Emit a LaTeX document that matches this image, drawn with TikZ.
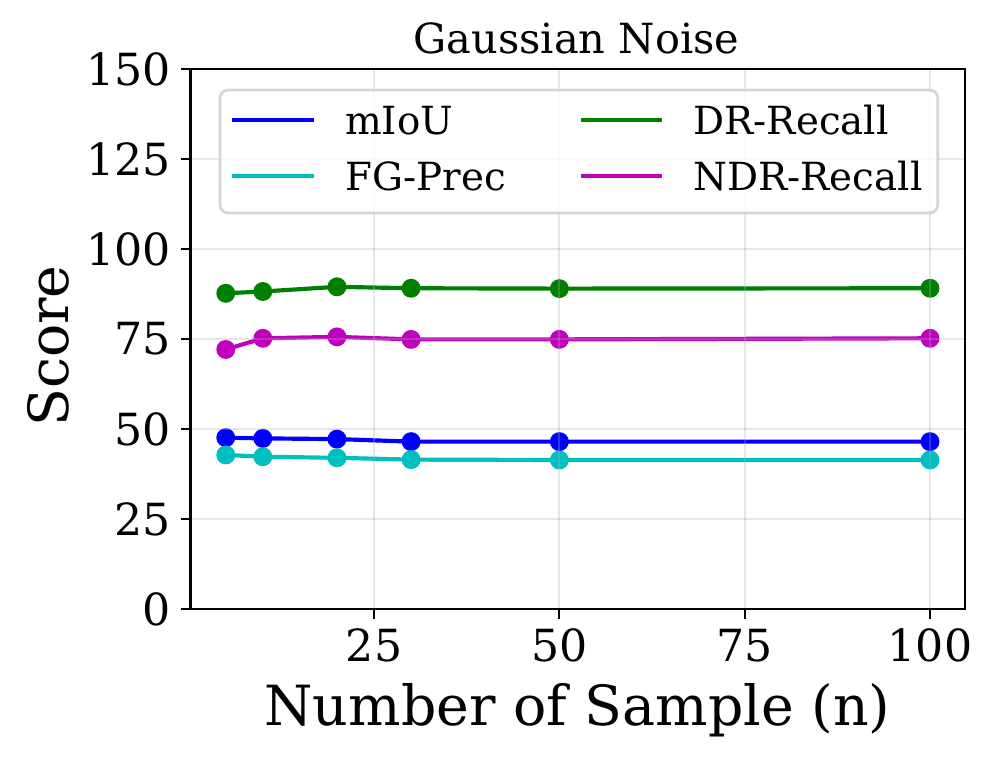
\documentclass[tikz,border=0pt]{standalone}
\usepackage{fontspec}
\setmainfont{DejaVu Serif}
\definecolor{cmiou}{rgb}{0,0,1}
\definecolor{cfg}{rgb}{0,0.75,0.75}
\definecolor{cdr}{rgb}{0,0.5,0}
\definecolor{cndr}{rgb}{0.75,0,0.75}
\definecolor{cgrid}{RGB}{176,176,176}
\definecolor{cframe}{RGB}{204,204,204}
\begin{document}
\begin{tikzpicture}[x=0.36bp,y=-0.36bp,
  gridline/.style={draw=cgrid,draw opacity=0.3,line width=0.8bp},
  spine/.style={line width=0.8bp},
  ticklab/.style={inner sep=0pt,font=\fontsize{16}{19}\selectfont},
  leglab/.style={inner sep=0pt,anchor=base west,font=\fontsize{14}{17}\selectfont},
  series/.style={line width=1.5bp,#1,mark=*,mark size=3.1bp,mark options={line width=0.6bp}},
  handle/.style={line width=1.5bp,#1}]
\useasboundingbox (0,0) rectangle (992,757);
\begin{scope}[shift={(188.7,609)},x=2.6687bp,y=1.296bp]
\draw[series=cmiou] plot coordinates {(5,47.6) (10,47.4) (20,47.2) (30,46.5) (50,46.5) (100,46.5)};
\draw[series=cfg] plot coordinates {(5,42.8) (10,42.3) (20,42.0) (30,41.5) (50,41.4) (100,41.4)};
\draw[series=cdr] plot coordinates {(5,87.7) (10,88.2) (20,89.5) (30,89.1) (50,89.0) (100,89.1)};
\draw[series=cndr] plot coordinates {(5,72.1) (10,75.2) (20,75.6) (30,74.9) (50,74.9) (100,75.2)};
\foreach \v in {25,50,75,100}
  \draw[gridline] (\v,0) -- (\v,150);
\foreach \v in {0,25,...,150}
  \draw[gridline] (0.25,\v) -- (104.75,\v);
\draw[spine] (0.25,0) rectangle (104.75,150);
\foreach \v in {25,50,75,100} {
  \draw[spine] (\v,0) -- ++(0,-3.5pt);
  \node[ticklab,anchor=north,yshift=-7pt] (xt\v) at (\v,0) {\v};
}
\foreach \v in {0,25,...,150} {
  \draw[spine] (0.25,\v) -- ++(-3.5pt,0);
  \node[ticklab,anchor=east,xshift=-7pt] (yt\v) at (0.25,\v) {\v};
}
\end{scope}
\node[inner sep=0pt,anchor=base,font=\fontsize{15}{18}\selectfont] (title) at (576.5,53.3) {Gaussian Noise};
\node[inner sep=0pt,anchor=base,font=\fontsize{20}{24}\selectfont] (xlab) at (577.5,725.7) {Number of Sample (n)};
\node[inner sep=0pt,anchor=base,rotate=90,font=\fontsize{20}{24}\selectfont] (ylab) at (68,346) {Score};
\draw[rounded corners=2.9bp,fill=white,fill opacity=0.8,draw=cframe,draw opacity=0.8,line width=1bp] (220,90) rectangle (937.7,213);
\draw[handle=cmiou] (232,120) -- (314,120);
\node[leglab] (legmiou) at (344.6,134) {mIoU};
\draw[handle=cfg] (232,175.7) -- (314,175.7);
\node[leglab] (legfg) at (344.6,190) {FG-Prec};
\draw[handle=cdr] (580.7,120) -- (661.7,120);
\node[leglab] (legdr) at (693,134) {DR-Recall};
\draw[handle=cndr] (580.7,175.7) -- (661.7,175.7);
\node[leglab] (legndr) at (693,190) {NDR-Recall};
\end{tikzpicture}
\end{document}
